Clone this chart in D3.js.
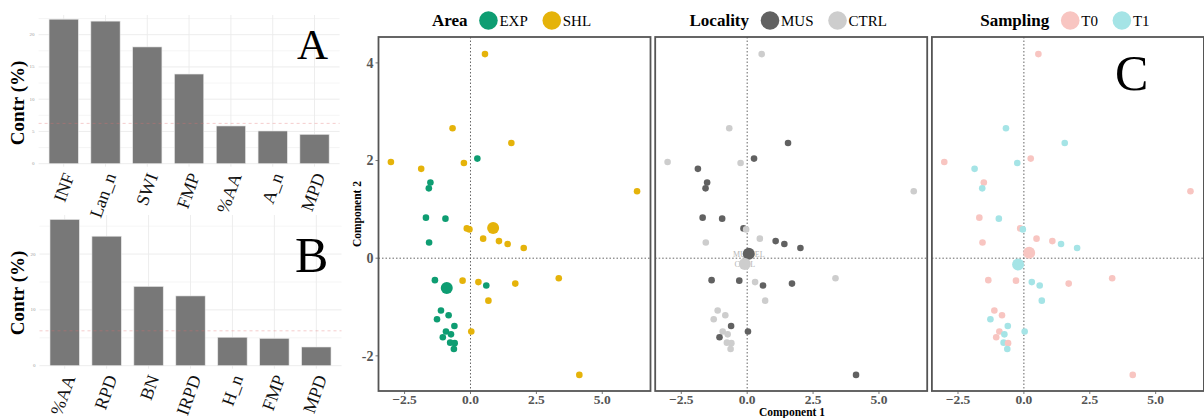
<!DOCTYPE html>
<html lang="en">
<head>
<meta charset="utf-8">
<title>PCA contributions and individuals</title>
<script src="https://cdn.jsdelivr.net/npm/d3@7"></script>
<style>
body {margin: 0; background: #fff;}
svg text {font-family: "Liberation Serif", "Times New Roman", serif;}
</style>
</head>
<body>
<svg width="1204" height="418"></svg>
<script>
// bar charts: contributions of variables (%)
var varsA = ["INF", "Lan_n", "SWI", "FMP", "%AA", "A_n", "MPD"];
var contrA = [22.4, 22.1, 18.1, 13.9, 5.85, 5.07, 4.55];
var ticksA = [0, 5, 10, 15, 20];
var varsB = ["%AA", "RPD", "BN", "IRPD", "H_n", "FMP", "MPD"];
var contrB = [26.2, 23.2, 14.2, 12.5, 5.1, 4.9, 3.35];
var ticksB = [0, 10, 20];
var expectedContr = 6.25;

// individuals on components 1 and 2
var comp1 = [0.55, -0.68, 1.55, -3.02, -0.25, 0.26, -1.87, -1.52, -1.58, 6.32,
             -1.69, -0.95, -0.14, -0.04, -1.57, 0.48, 1.08, 1.41, 2.02, -1.35,
             -0.30, 0.30, 0.60, 1.70, 3.35, 0.68, -1.12, -0.83, -1.27, -0.61,
             0.03, -0.93, -0.74, -1.05, -0.77, -0.60, -0.63, 4.13];
var comp2 = [4.18, 2.66, 2.36, 1.97, 1.95, 2.04, 1.83, 1.55, 1.43, 1.37,
             0.83, 0.81, 0.61, 0.59, 0.32, 0.40, 0.35, 0.29, 0.21, -0.45,
             -0.46, -0.49, -0.56, -0.52, -0.41, -0.87, -1.07, -1.17, -1.25, -1.39,
             -1.50, -1.50, -1.56, -1.62, -1.73, -1.74, -1.86, -2.39];
var area = ["SHL", "SHL", "SHL", "SHL", "SHL", "EXP", "SHL", "EXP", "EXP", "SHL",
            "EXP", "EXP", "SHL", "SHL", "EXP", "SHL", "SHL", "SHL", "SHL", "EXP",
            "SHL", "SHL", "EXP", "SHL", "SHL", "SHL", "EXP", "EXP", "EXP", "EXP",
            "SHL", "EXP", "EXP", "EXP", "EXP", "EXP", "EXP", "SHL"];
var locality = ["CTRL", "CTRL", "MUS", "CTRL", "CTRL", "MUS", "MUS", "MUS", "MUS", "CTRL",
                "MUS", "MUS", "MUS", "CTRL", "CTRL", "CTRL", "MUS", "MUS", "MUS", "MUS",
                "MUS", "CTRL", "MUS", "MUS", "CTRL", "CTRL", "CTRL", "CTRL", "CTRL", "MUS",
                "MUS", "CTRL", "CTRL", "MUS", "CTRL", "CTRL", "CTRL", "MUS"];
var sampling = ["T0", "T1", "T1", "T0", "T1", "T0", "T1", "T0", "T1", "T0",
                "T0", "T1", "T0", "T1", "T0", "T0", "T0", "T1", "T1", "T0",
                "T0", "T1", "T1", "T0", "T0", "T1", "T0", "T0", "T1", "T1",
                "T1", "T0", "T1", "T0", "T1", "T0", "T1", "T0"];
// group mean points (as drawn)
var areaMean1 = [-0.90, 0.86], areaMean2 = [-0.61, 0.62];
var localityMean1 = [0.06, -0.09], localityMean2 = [0.09, -0.12];
var samplingMean1 = [0.20, -0.22], samplingMean2 = [0.11, -0.13];
var compTicksX = [-2.5, 0, 2.5, 5];
var compTicksY = [-2, 0, 2, 4];

var svg = d3.select("svg");
svg.append("rect").attr("width", 1204).attr("height", 418).attr("fill", "#fff");

/// bar chart
function barChart(vars, vals, ticks, step, ymax, box, letter) {
	var g = svg.append("g");
	var x = d3.scaleBand().domain(vars).range([box.x0, box.x1])
		.paddingInner(0.3).paddingOuter(0.25);
	var y = d3.scaleLinear().domain([0, ymax]).range([box.y0, box.y1]);
	var bottom = box.y0 + 3;

	var grid = d3.range(0, ymax, step / 2);
	g.selectAll(".hg").data(grid).enter().append("line")
		.attr("x1", box.x0).attr("x2", box.x1)
		.attr("y1", function(d) { return y(d); })
		.attr("y2", function(d) { return y(d); })
		.attr("stroke", "#ebebeb")
		.attr("stroke-width", function(d) { return d % step == 0 ? 0.9 : 0.5; });
	g.selectAll(".vg").data(vars).enter().append("line")
		.attr("x1", function(d) { return x(d) + x.bandwidth() / 2; })
		.attr("x2", function(d) { return x(d) + x.bandwidth() / 2; })
		.attr("y1", box.y1).attr("y2", bottom)
		.attr("stroke", "#ebebeb").attr("stroke-width", 0.9);

	g.selectAll("rect").data(vals).enter().append("rect")
		.attr("x", function(d, i) { return x(vars[i]); })
		.attr("width", x.bandwidth())
		.attr("y", function(d) { return y(d); })
		.attr("height", function(d) { return y(0) - y(d); })
		.attr("fill", "#787878")
		.attr("stroke", "#e8e8e8").attr("stroke-width", 0.6);

	g.append("line")
		.attr("x1", box.x0).attr("x2", box.x1)
		.attr("y1", y(expectedContr)).attr("y2", y(expectedContr))
		.attr("stroke", "#e07070").attr("stroke-opacity", 0.45)
		.attr("stroke-dasharray", "3,3").attr("stroke-width", 0.8);

	g.selectAll(".yt").data(ticks).enter().append("text")
		.attr("x", box.x0 - 4).attr("y", function(d) { return y(d) + 1.5; })
		.attr("text-anchor", "end").attr("font-size", 5).attr("fill", "#999")
		.text(function(d) { return d; });

	g.selectAll(".xt").data(vars).enter().append("text")
		.attr("transform", function(d) {
			return "translate(" + (x(d) + x.bandwidth() / 2 + 5) + "," + (bottom + 7) + ") rotate(-70)";
		})
		.attr("text-anchor", "end").attr("dy", "0.35em")
		.attr("font-size", 18).attr("fill", "#111")
		.text(function(d) { return d; });

	g.append("text")
		.attr("transform", "translate(" + box.labelX + "," + box.labelY + ") rotate(-90)")
		.attr("text-anchor", "middle").attr("font-size", 19).attr("font-weight", "bold")
		.text("Contr (%)");

	g.append("text")
		.attr("x", letter.x).attr("y", letter.y)
		.attr("font-size", letter.size)
		.text(letter.t);
}

barChart(varsA, contrA, ticksA, 5, 23.05,
	{x0: 38.6, x1: 339.6, y0: 163.7, y1: 15, labelX: 24, labelY: 103},
	{t: "A", x: 297, y: 59, size: 43});
barChart(varsB, contrB, ticksB, 10, 27,
	{x0: 39.5, x1: 341.5, y0: 365.7, y1: 215, labelX: 24, labelY: 293},
	{t: "B", x: 295, y: 272, size: 50});

/// PCA individuals, one panel per grouping
var panels = [
	{title: "Area", groups: area, levels: ["EXP", "SHL"], colors: ["#0e9d72", "#e5b30a"],
	 m1: areaMean1, m2: areaMean2},
	{title: "Locality", groups: locality, levels: ["MUS", "CTRL"], colors: ["#616161", "#cdcdcd"],
	 m1: localityMean1, m2: localityMean2},
	{title: "Sampling", groups: sampling, levels: ["T0", "T1"], colors: ["#f8c5c1", "#a5e4e6"],
	 m1: samplingMean1, m2: samplingMean2}
];
var pTop = 37, pBottom = 391, pWidth = 272, pPitch = 276.7, pLeft = 378.5;
var idx = d3.range(comp1.length);

panels.forEach(function(p, k) {
	var left = pLeft + k * pPitch;
	var x = d3.scaleLinear().domain([-3.49, 6.83]).range([left, left + pWidth]);
	var y = d3.scaleLinear().domain([-2.72, 4.53]).range([pBottom, pTop]);
	var color = d3.scaleOrdinal().domain(p.levels).range(p.colors);
	var g = svg.append("g");

	g.append("line").attr("x1", x(0)).attr("x2", x(0)).attr("y1", pTop).attr("y2", pBottom)
		.attr("stroke", "#555").attr("stroke-width", 0.9).attr("stroke-dasharray", "1.5,2");
	g.append("line").attr("x1", left).attr("x2", left + pWidth).attr("y1", y(0)).attr("y2", y(0))
		.attr("stroke", "#555").attr("stroke-width", 0.9).attr("stroke-dasharray", "1.5,2");

	g.selectAll(".pt").data(idx).enter().append("circle")
		.attr("cx", function(i) { return x(comp1[i]); })
		.attr("cy", function(i) { return y(comp2[i]); })
		.attr("r", 3.3)
		.attr("fill", function(i) { return color(p.groups[i]); });

	var means = p.levels.map(function(l, j) {
		return {level: l, x: p.m1[j], y: p.m2[j]};
	});
	if (p.title == "Locality") {
		g.selectAll(".ml").data(means).enter().append("text")
			.attr("x", function(d) { return x(d.x); })
			.attr("y", function(d) { return y(d.y); })
			.attr("dy", "0.35em")
			.attr("text-anchor", "middle").attr("font-size", 8)
			.attr("fill", "#b5b5b5")
			.text(function(d) { return d.level == "MUS" ? "MUSSEL" : "CTRL"; });
	}
	g.selectAll(".mp").data(means).enter().append("circle")
		.attr("cx", function(d) { return x(d.x); })
		.attr("cy", function(d) { return y(d.y); })
		.attr("r", 6)
		.attr("fill", function(d) { return color(d.level); });

	g.append("rect").attr("x", left).attr("y", pTop)
		.attr("width", pWidth).attr("height", pBottom - pTop)
		.attr("fill", "none").attr("stroke", "#555").attr("stroke-width", 1.8);

	// x axis
	g.selectAll(".xtk").data(compTicksX).enter().append("line")
		.attr("x1", function(d) { return x(d); }).attr("x2", function(d) { return x(d); })
		.attr("y1", pBottom).attr("y2", pBottom + 3)
		.attr("stroke", "#555").attr("stroke-width", 0.8);
	g.selectAll(".xtl").data(compTicksX).enter().append("text")
		.attr("x", function(d) { return x(d); }).attr("y", 403.5)
		.attr("text-anchor", "middle").attr("font-size", 13.5).attr("font-weight", "bold")
		.attr("fill", "#555")
		.text(function(d) { return d3.format(".1f")(d); });

	if (k == 0) {
		g.selectAll(".ytk").data(compTicksY).enter().append("line")
			.attr("x1", left - 3).attr("x2", left)
			.attr("y1", function(d) { return y(d); }).attr("y2", function(d) { return y(d); })
			.attr("stroke", "#555").attr("stroke-width", 0.8);
		g.selectAll(".ytl").data(compTicksY).enter().append("text")
			.attr("x", left - 5).attr("y", function(d) { return y(d); })
			.attr("dy", "0.35em")
			.attr("text-anchor", "end").attr("font-size", 14).attr("font-weight", "bold")
			.attr("fill", "#555")
			.text(function(d) { return d; });
	}

	// legend above the panel
	var lg = g.append("g");
	var title = lg.append("text").attr("x", 0).attr("y", 26)
		.attr("font-size", 17).attr("font-weight", "bold").text(p.title);
	var pos = title.node().getComputedTextLength() + 21;
	p.levels.forEach(function(l, j) {
		lg.append("circle").attr("cx", pos).attr("cy", 20.5).attr("r", 9.3)
			.attr("fill", color(l));
		var t = lg.append("text").attr("x", pos + 11).attr("y", 26)
			.attr("font-size", 15).text(l);
		pos += 11 + t.node().getComputedTextLength() + 24;
	});
	var lw = pos - 24;
	lg.attr("transform", "translate(" + (left + pWidth / 2 - 3 - lw / 2) + ",0)");
});

svg.append("text").attr("x", 792).attr("y", 416)
	.attr("text-anchor", "middle").attr("font-size", 11.5).attr("font-weight", "bold")
	.text("Component 1");
svg.append("text")
	.attr("transform", "translate(361,214) rotate(-90)")
	.attr("text-anchor", "middle").attr("font-size", 11.5).attr("font-weight", "bold")
	.text("Component 2");
svg.append("text").attr("x", 1115).attr("y", 90).attr("font-size", 50).text("C");
</script>
</body>
</html>
